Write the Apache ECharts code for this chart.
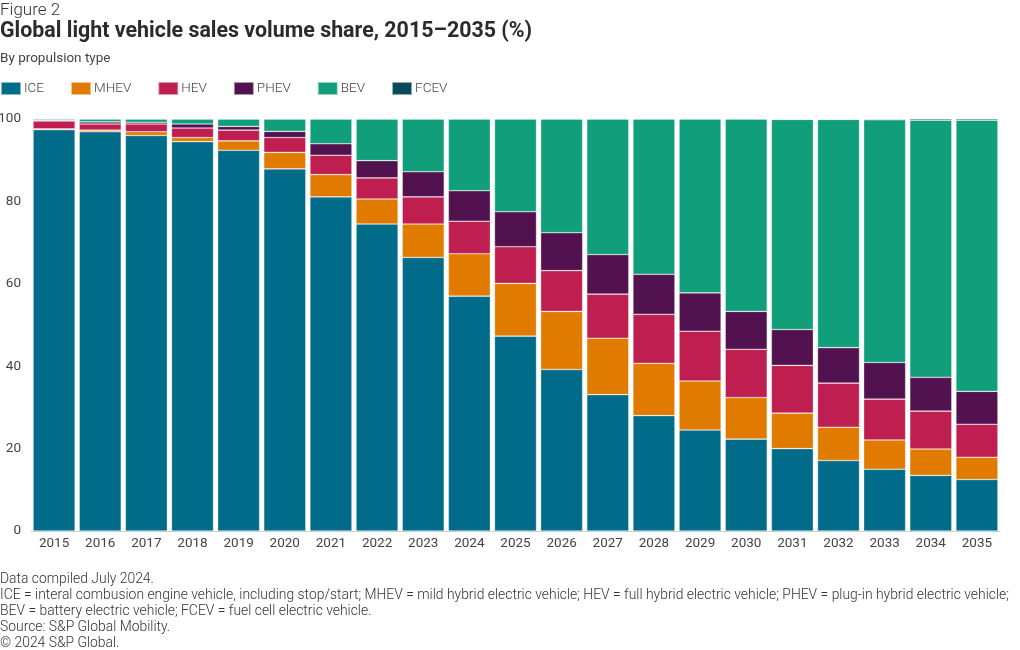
<!DOCTYPE html>
<html><head><meta charset="utf-8">
<script src="https://cdn.jsdelivr.net/npm/echarts@6/dist/echarts.min.js"></script>
<style>html,body{margin:0;padding:0;background:#fff}#c{width:1020px;height:650px}</style>
</head><body><div id="c"></div>
<script>
const years = ['2015','2016','2017','2018','2019','2020','2021','2022','2023','2024','2025','2026','2027','2028','2029','2030','2031','2032','2033','2034','2035'];
const ICE  = [97.4,96.9,96.0,94.5,92.4,87.9,81.1,74.5,66.4,57.0,47.3,39.2,33.1,28.0,24.5,22.3,20.0,17.1,15.0,13.5,12.5];
const MHEV = [0.2,0.4,0.9,1.0,2.3,4.0,5.4,6.1,8.1,10.3,12.8,14.1,13.7,12.7,11.9,10.1,8.6,8.1,7.1,6.4,5.4];
const HEV  = [1.9,1.5,1.9,2.3,2.6,3.6,4.7,5.1,6.6,7.9,8.9,9.9,10.7,11.9,12.1,11.7,11.6,10.7,9.9,9.2,8.0];
const PHEV = [0.2,0.5,0.4,1.0,0.9,1.5,2.8,4.2,6.1,7.4,8.5,9.2,9.6,9.7,9.3,9.2,8.7,8.6,8.9,8.2,8.0];
const BEV  = [0.3,0.7,0.8,1.2,1.8,3.0,6.0,10.1,12.8,17.4,22.5,27.6,32.9,37.7,42.2,46.7,51.0,55.4,58.9,62.4,65.8];
const FCEV = [0,0,0,0,0,0,0,0,0,0,0,0,0,0,0,0,0.1,0.1,0.2,0.3,0.3];
const yTicks = [0,20,40,60,80,100];

const names = ['ICE','MHEV','HEV','PHEV','BEV','FCEV'];
const dataArr = [ICE,MHEV,HEV,PHEV,BEV,FCEV];
const colors = ['#006c89','#e07b00','#be1e50','#52124f','#119e7a','#0a4a5c'];
const font = 'Roboto, "Noto Sans", sans-serif';

const chart = echarts.init(document.getElementById('c'), null, {renderer:'canvas'});
const footer = [
 'Data compiled July 2024.',
 'ICE = interal combusion engine vehicle, including stop/start; MHEV = mild hybrid electric vehicle; HEV = full hybrid electric vehicle; PHEV = plug-in hybrid electric vehicle;',
 'BEV = battery electric vehicle; FCEV = fuel cell electric vehicle.',
 'Source: S&P Global Mobility.',
 '\u00a9 2024 S&P Global.'
];
chart.setOption({
  animation:false,
  color: colors,
  title:[
    {text:'Figure 2', left:0, top:2, padding:0, textStyle:{fontFamily:font, fontWeight:300, fontSize:17, color:'#333'}},
    {text:'Global light vehicle sales volume share, 2015\u20132035 (%)', left:0, top:21, padding:0, textStyle:{fontFamily:font, fontWeight:'bold', fontSize:21.4, color:'#2b2b2b'}},
    {text:'By propulsion type', left:0, top:52, padding:0, textStyle:{fontFamily:font, fontWeight:'normal', fontSize:13.5, color:'#444'}},
    {text:footer.join('\n'), left:0, top:572, padding:0, textStyle:{fontFamily:font, fontWeight:300, fontSize:13.9, lineHeight:16, color:'#333'}}
  ],
  legend:{
    left:0, top:81, padding:0, itemWidth:20, itemHeight:13, itemGap:26, icon:'rect',
    textStyle:{fontFamily:font, fontSize:13.5, fontWeight:300, color:'#444', padding:[0,0,0,-2]},
    data:names
  },
  grid:{left:31, right:20, top:119, bottom:119, outerBoundsMode:'none', containLabel:false},
  xAxis:{type:'category', data:years,
    axisLine:{show:true, lineStyle:{color:'#c8d0d4', width:1}},
    axisTick:{show:false},
    axisLabel:{fontFamily:font, fontSize:13.5, color:'#444', margin:6}},
  yAxis:{type:'value', min:0, max:100, interval:20,
    splitLine:{show:false}, axisLine:{show:false}, axisTick:{show:false},
    axisLabel:{fontFamily:font, fontSize:13.5, color:'#444', margin:10,
      formatter: v => yTicks.includes(v) ? String(v) : ''}},
  series: names.map((n,i)=>({
    name:n, type:'bar', stack:'total', data:dataArr[i],
    barCategoryGap:'9%',
    itemStyle:{color:colors[i], borderColor:'rgba(255,255,255,0.55)', borderWidth:0.6}
  }))
});
</script></body></html>
